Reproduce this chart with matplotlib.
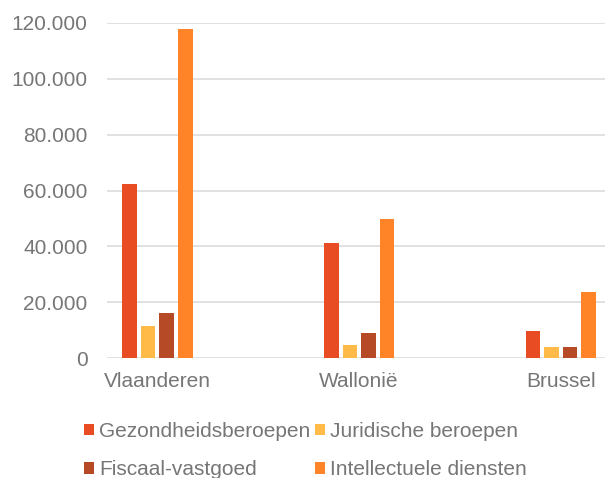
import matplotlib.pyplot as plt
import numpy as np
from matplotlib.ticker import FuncFormatter

plt.rcParams['font.family'] = ['Liberation Sans', 'DejaVu Sans']

regions = ["Vlaanderen", "Wallonië", "Brussel"]
series = ["Gezondheidsberoepen", "Juridische beroepen",
          "Fiscaal-vastgoed", "Intellectuele diensten"]
gezondheid = [62300, 41100, 9800]
juridisch = [11700, 4800, 4200]
fiscaal = [16200, 9000, 4000]
intellectueel = [117800, 49700, 23800]
colors = ["#E84C22", "#FFBA47", "#B64926", "#FF8427"]

text_col = "#767676"
grid_col = "#D9D9D9"

fig = plt.figure(figsize=(6.05, 4.78), dpi=100)
ax = fig.add_axes([0.177, 0.2504, 0.823, 0.7021])

x = np.arange(len(regions))
width = 0.072
step = 0.092
values = [gezondheid, juridisch, fiscaal, intellectueel]
handles = []
for i, (vals, name, col) in enumerate(zip(values, series, colors)):
    b = ax.bar(x + (i - 1.5) * step, vals, width=width, color=col,
               label=name, zorder=3)
    handles.append(b)

ax.set_xlim(-0.25, 2.22)
ax.set_ylim(0, 120000)
ax.set_yticks(range(0, 120001, 20000))
ax.yaxis.set_major_formatter(
    FuncFormatter(lambda v, p: f"{int(v):,}".replace(",", ".")))
ax.set_xticks(x)
ax.set_xticklabels(regions)

ax.grid(axis="y", color=grid_col, linewidth=1.1, zorder=0)
ax.set_axisbelow(True)
for s in ax.spines.values():
    s.set_visible(False)
ax.tick_params(axis="y", length=0, pad=14, labelsize=15, labelcolor=text_col)
ax.tick_params(axis="x", length=0, pad=10, labelsize=15, labelcolor=text_col)

# legend fills column-wise, reorder so rows read like the original
order = [0, 2, 1, 3]
fig.legend(handles=[handles[i] for i in order],
           labels=[series[i] for i in order], loc="upper left",
           bbox_to_anchor=(0.139, 0.1175), ncol=2, frameon=False,
           fontsize=15, labelcolor=text_col, handlelength=0.48,
           handleheight=0.48, handletextpad=0.24, columnspacing=0.2,
           labelspacing=0.94, borderpad=0, borderaxespad=0)

fig.savefig("out.png", dpi=100)
